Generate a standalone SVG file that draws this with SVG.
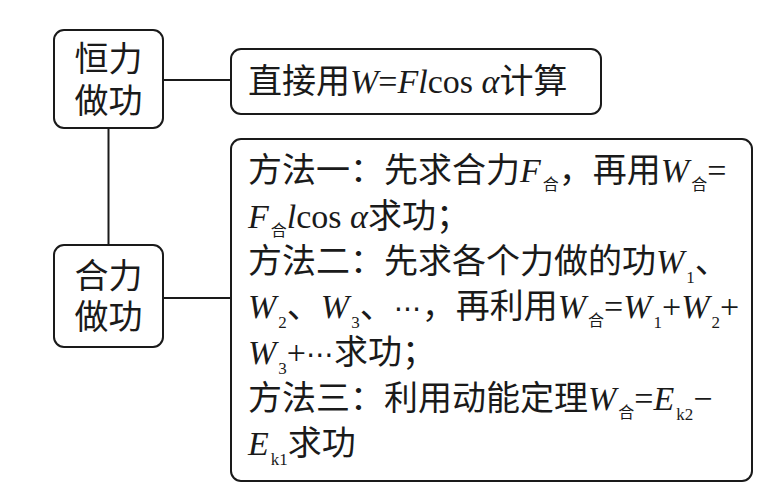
<svg xmlns="http://www.w3.org/2000/svg" width="780" height="501" viewBox="0 0 780 501">
<style>
  .box { fill: #ffffff; stroke: #1a1a1a; stroke-width: 2; }
  .conn { stroke: #1a1a1a; stroke-width: 2; fill: none; }
  .t { font-family: "Liberation Serif", "Noto Sans CJK SC", serif; font-size: 34px; fill: #1a1a1a; }
  .cjk { font-family: "Noto Sans CJK SC", sans-serif; }
  .dots { font-family: "DejaVu Sans", sans-serif; font-size: 28px; }
  .i { font-style: italic; }
  .sub { font-size: 16px; font-family: "Noto Sans CJK SC", sans-serif; }
  .num { font-size: 17px; }
</style>
<rect width="780" height="501" fill="#ffffff"/>
<g id="connectors">
  <line class="conn" x1="163" y1="80" x2="231" y2="80"/>
  <line class="conn" x1="108.5" y1="128" x2="108.5" y2="245"/>
  <line class="conn" x1="163" y1="298" x2="231" y2="298"/>
</g>
<g id="node-hengli">
  <rect class="box" x="54" y="30" width="109" height="98" rx="10"/>
  <text class="t cjk" x="108.5" y="71" text-anchor="middle">恒力</text>
  <text class="t cjk" x="108.5" y="113" text-anchor="middle">做功</text>
</g>
<g id="node-heli">
  <rect class="box" x="54" y="245" width="109" height="102" rx="10"/>
  <text class="t cjk" x="108.5" y="288" text-anchor="middle">合力</text>
  <text class="t cjk" x="108.5" y="329" text-anchor="middle">做功</text>
</g>
<g id="node-direct">
  <rect class="box" x="231" y="49" width="370" height="65" rx="10"/>
  <text class="t" x="248" y="93"><tspan class="cjk">直接用</tspan><tspan class="i">W</tspan>=<tspan class="i">Fl</tspan>cos <tspan class="i">α</tspan><tspan class="cjk">计算</tspan></text>
</g>
<g id="node-methods">
  <rect class="box" x="231" y="139" width="521" height="342" rx="10"/>
  <text class="t" x="248" y="182"><tspan class="cjk">方法一：先求合力</tspan><tspan class="i">F</tspan><tspan class="sub" dx="2" dy="8">合</tspan><tspan class="cjk" dy="-8">，再用</tspan><tspan class="i">W</tspan><tspan class="sub" dx="2" dy="8">合</tspan><tspan dy="-8">=</tspan></text>
  <text class="t" x="248" y="228"><tspan class="i">F</tspan><tspan class="sub" dx="2" dy="8">合</tspan><tspan class="i" dy="-8">l</tspan>cos <tspan class="i">α</tspan><tspan class="cjk">求功；</tspan></text>
  <text class="t" x="248" y="273"><tspan class="cjk">方法二：先求各个力做的功</tspan><tspan class="i">W</tspan><tspan class="num" dx="2" dy="10">1</tspan><tspan class="cjk" dy="-10">、</tspan></text>
  <text class="t" x="248" y="318"><tspan class="i">W</tspan><tspan class="num" dx="2" dy="10">2</tspan><tspan class="cjk" dy="-10">、</tspan><tspan class="i">W</tspan><tspan class="num" dx="2" dy="10">3</tspan><tspan class="cjk" dy="-10">、</tspan><tspan class="dots">⋯</tspan><tspan class="cjk">，再利用</tspan><tspan class="i">W</tspan><tspan class="sub" dx="2" dy="8">合</tspan><tspan dy="-8">=</tspan><tspan class="i">W</tspan><tspan class="num" dx="2" dy="10">1</tspan><tspan dy="-10">+</tspan><tspan class="i">W</tspan><tspan class="num" dx="2" dy="10">2</tspan><tspan dy="-10">+</tspan></text>
  <text class="t" x="248" y="364"><tspan class="i">W</tspan><tspan class="num" dx="2" dy="10">3</tspan><tspan dy="-10">+</tspan><tspan class="dots">⋯</tspan><tspan class="cjk">求功；</tspan></text>
  <text class="t" x="248" y="410"><tspan class="cjk">方法三：利用动能定理</tspan><tspan class="i">W</tspan><tspan class="sub" dx="2" dy="8">合</tspan><tspan dy="-8">=</tspan><tspan class="i">E</tspan><tspan class="num" dx="2" dy="10">k2</tspan><tspan dy="-10">−</tspan></text>
  <text class="t" x="248" y="455"><tspan class="i">E</tspan><tspan class="num" dx="2" dy="10">k1</tspan><tspan class="cjk" dy="-10">求功</tspan></text>
</g>
</svg>
